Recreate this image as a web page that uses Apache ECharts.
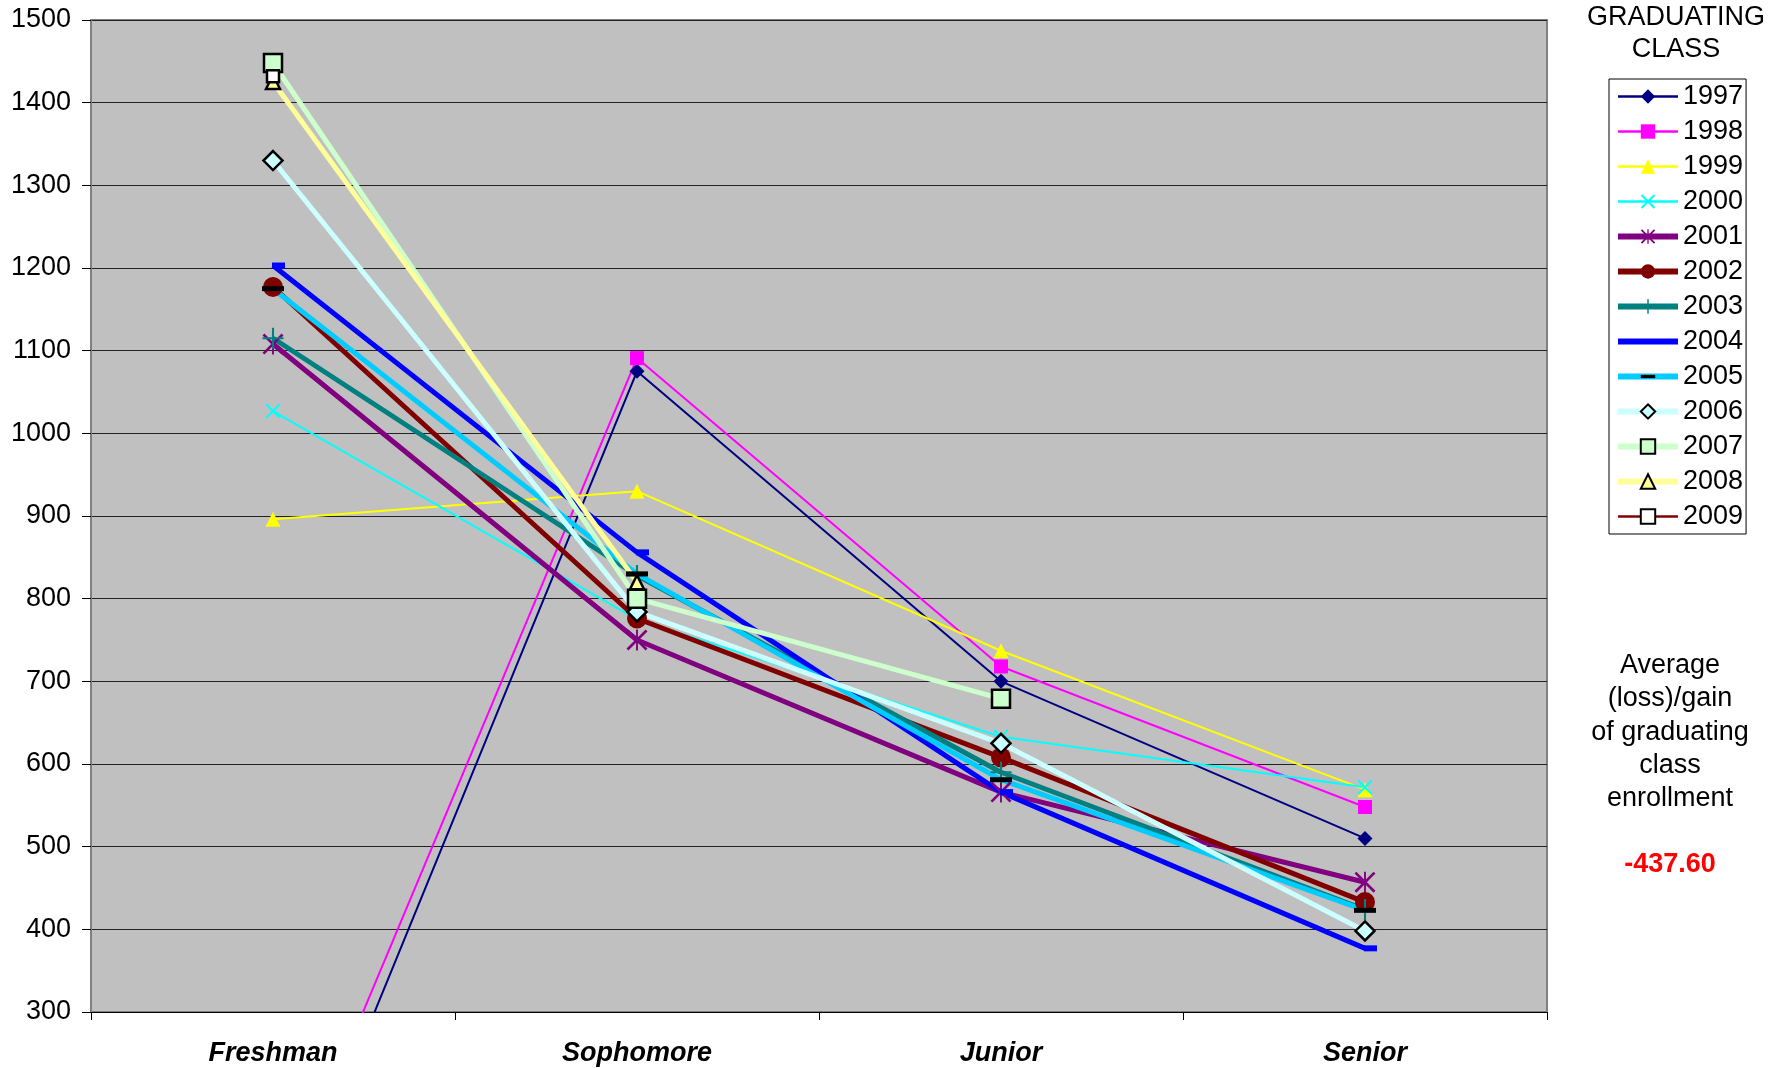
<!DOCTYPE html>
<html>
<head>
<meta charset="utf-8">
<script src="https://cdn.jsdelivr.net/npm/echarts@6/dist/echarts.min.js"></script>
<style>
html,body{margin:0;padding:0;background:#fff;}
#chart{width:1785px;height:1068px;}
</style>
</head>
<body>
<div id="chart"></div>
<script>
const categories = ['Freshman', 'Sophomore', 'Junior', 'Senior'];
const yTicks = [300, 400, 500, 600, 700, 800, 900, 1000, 1100, 1200, 1300, 1400, 1500];
const classNames = ['1997','1998','1999','2000','2001','2002','2003','2004','2005','2006','2007','2008','2009'];

const c1997 = [0, 1075, 700, 510];
const c1998 = [40, 1091, 718, 548];
const c1999 = [896, 930, 737, 569];
const c2000 = [1027, 775, 633, 572];
const c2001 = [1108, 750, 566, 457];
const c2002 = [1177, 776, 608, 433];
const c2003 = [1115, 828, 590, 424];
const c2004 = [1203, 856, 566, 377];
const c2005 = [1175, 830, 581, 423];
const c2006 = [1330, 784, 625, 398];
const c2007 = [1448, 800, 679, null];
const c2008 = [1425, 820, null, null];
const c2009 = [1432, null, null, null];

const averageLabel = ['Average', '(loss)/gain', 'of graduating', 'class', 'enrollment'];
const averageValue = '-437.60';

const FONT = 'Liberation Sans, Arial, sans-serif';
const X_PATH = 'path://M0,1 L1,0 L10,9 L9,10 Z M9,0 L10,1 L1,10 L0,9 Z';
const AST_PATH = 'path://M0,0.9 L0.9,0 L10,9.1 L9.1,10 Z M9.1,0 L10,0.9 L0.9,10 L0,9.1 Z M4.55,0 L5.45,0 L5.45,10 L4.55,10 Z';
const PLUS_PATH = 'path://M0,4.5 L10,4.5 L10,5.5 L0,5.5 Z M4.5,0 L5.5,0 L5.5,10 L4.5,10 Z';
// bar centred inside a square box (box corners given as zero-length moves)
const BAR_PATH = 'path://M0,0 L0,0 M22,22 L22,22 M0,8.5 L22,8.5 L22,13.5 L0,13.5 Z';
// short bar starting just left of centre and extending right
const SHORT_BAR_PATH = 'path://M0,0 L0,0 M26,26 L26,26 M12,10 L25,10 L25,16 L12,16 Z';

const styles = [
  {data: c1997, color: '#000080', width: 2, symbol: 'diamond', size: 15, fill: '#000080'},
  {data: c1998, color: '#FF00FF', width: 2, symbol: 'rect', size: 14, fill: '#FF00FF'},
  {data: c1999, color: '#FFFF00', width: 2, symbol: 'triangle', size: 15, fill: '#FFFF00'},
  {data: c2000, color: '#00FFFF', width: 2, symbol: X_PATH, size: 15, fill: '#00FFFF'},
  {data: c2001, color: '#800080', width: 5, symbol: AST_PATH, size: 21, fill: '#800080'},
  {data: c2002, color: '#800000', width: 5, symbol: 'circle', size: 20, fill: '#800000'},
  {data: c2003, color: '#008080', width: 5, symbol: PLUS_PATH, size: 21, fill: '#008080'},
  {data: c2004, color: '#0000FF', width: 5, symbol: SHORT_BAR_PATH, size: 26, fill: '#0000FF'},
  {data: c2005, color: '#00CCFF', width: 5, symbol: BAR_PATH, size: 22, fill: '#000000'},
  {data: c2006, color: '#CCFFFF', width: 5, symbol: 'diamond', size: 19, fill: '#CCFFFF', border: '#000000'},
  {data: c2007, color: '#CCFFCC', width: 5, symbol: 'rect', size: 18, fill: '#CCFFCC', border: '#000000'},
  {data: c2008, color: '#FFFF99', width: 5, symbol: 'triangle', size: 14, fill: '#FFFF99', border: '#000000'},
  {data: c2009, color: '#800000', width: 2, symbol: 'rect', size: 12, fill: '#FFFFFF', border: '#000000'}
];

const series = styles.map((s, i) => ({
  name: classNames[i],
  type: 'line',
  data: s.data,
  symbol: s.symbol,
  symbolSize: s.size,
  showAllSymbol: true,
  connectNulls: false,
  clip: true,
  animation: false,
  lineStyle: {color: s.color, width: s.width},
  itemStyle: {
    color: s.fill,
    borderColor: s.border || s.fill,
    borderWidth: s.border ? 2.5 : 0,
    opacity: 1
  },
  emphasis: {disabled: true}
}));

const legendData = styles.map((s, i) => ({
  name: classNames[i],
  lineStyle: {color: s.color, width: s.width === 2 ? 2.5 : 6},
  itemStyle: {
    color: s.fill,
    borderColor: s.border || s.fill,
    borderWidth: s.border ? 2 : 0
  }
}));

const chart = echarts.init(document.getElementById('chart'), null, {renderer: 'canvas'});
chart.setOption({
  backgroundColor: '#ffffff',
  animation: false,
  textStyle: {fontFamily: FONT},
  grid: {
    left: 91, top: 20, right: 238, bottom: 56,
    show: true, backgroundColor: '#C0C0C0', borderColor: '#808080', borderWidth: 2,
    containLabel: false
  },
  xAxis: {
    type: 'category',
    data: categories,
    boundaryGap: true,
    axisLine: {lineStyle: {color: '#000000', width: 1}},
    axisTick: {show: true, length: 8, lineStyle: {color: '#000000'}},
    axisLabel: {
      fontSize: 27, fontWeight: 'bold', fontStyle: 'italic', color: '#000000',
      margin: 28, fontFamily: FONT
    }
  },
  yAxis: {
    type: 'value',
    min: yTicks[0], max: yTicks[yTicks.length - 1], interval: 100,
    axisLine: {show: true, lineStyle: {color: '#808080', width: 2}},
    axisTick: {show: true, length: 9, lineStyle: {color: '#000000'}},
    axisLabel: {fontSize: 27, color: '#000000', margin: 20, fontFamily: FONT, formatter: v => String(v)},
    splitLine: {show: true, lineStyle: {color: '#222222', width: 1}}
  },
  legend: {
    orient: 'vertical',
    left: 1609, top: 79,
    padding: [4, 3, 4, 6],
    borderColor: '#000000', borderWidth: 1,
    backgroundColor: '#ffffff',
    itemWidth: 60, itemHeight: 18, itemGap: 8,
    selectedMode: false,
    textStyle: {fontSize: 27, color: '#000000', lineHeight: 27, padding: [0, 0, 0, 0], fontFamily: FONT},
    data: legendData
  },
  title: [
    {
      text: 'GRADUATING\nCLASS',
      left: 1671, top: -3, textAlign: 'center',
      textStyle: {fontSize: 27, fontWeight: 'normal', color: '#000000', lineHeight: 32, fontFamily: FONT}
    },
    {
      text: averageLabel.join('\n'),
      left: 1665, top: 644, textAlign: 'center',
      textStyle: {fontSize: 27, fontWeight: 'normal', color: '#000000', lineHeight: 33.3, fontFamily: FONT}
    },
    {
      text: averageValue,
      left: 1665, top: 846, textAlign: 'center',
      textStyle: {fontSize: 27, fontWeight: 'bold', color: '#FF0000', fontFamily: FONT}
    }
  ],
  series: series
});
</script>
</body>
</html>
